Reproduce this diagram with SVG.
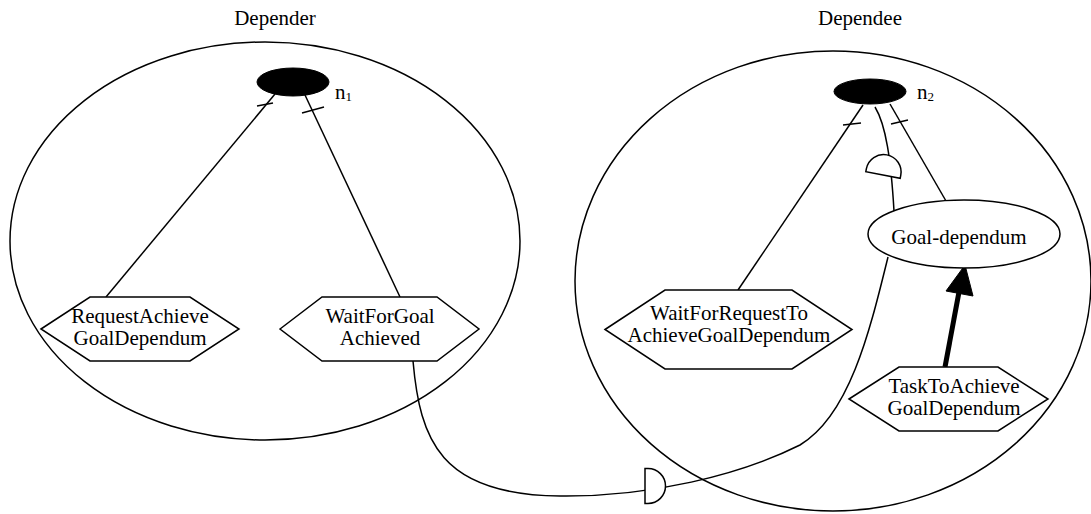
<svg xmlns="http://www.w3.org/2000/svg" width="1091" height="514" viewBox="0 0 1091 514">
  <style>
    .ln { fill: none; stroke: #000; stroke-width: 1.5; }
    .shape { fill: #fff; stroke: #000; stroke-width: 1.5; }
    .hole { fill: none; stroke: #000; stroke-width: 1.5; }
    .dot { fill: #000; stroke: #000; stroke-width: 1; }
    .txt { font-family: "Liberation Serif", "Times New Roman", serif; font-size: 21px; fill: #000; text-anchor: middle; }
    .sub { font-family: "Liberation Serif", "Times New Roman", serif; font-size: 13px; fill: #000; }
    .lbl { font-family: "Liberation Serif", "Times New Roman", serif; font-size: 21px; fill: #000; }
  </style>
  <defs>
    <!-- D-shaped mark placed across a link; flat side on the local y axis, bulge toward +x -->
    <path id="dmark" d="M 0 -17.5 L 3 -17.5 A 17.5 17.5 0 0 1 3 17.5 L 0 17.5 Z"/>
  </defs>

  <rect width="1091" height="514" fill="#fff"/>

  <!-- actor boundaries -->
  <g id="depender">
    <ellipse class="hole" cx="265" cy="241" rx="255" ry="199"/>
    <text class="txt" x="275" y="25">Depender</text>
  </g>
  <g id="dependee">
    <ellipse class="hole" cx="833" cy="281" rx="258" ry="230"/>
    <text class="txt" x="860" y="25">Dependee</text>
  </g>

  <!-- connectors -->
  <g id="connectors">
    <!-- decomposition links under n1 -->
    <line class="ln" x1="275" y1="94" x2="106" y2="297"/>
    <line class="ln" x1="257" y1="106" x2="273" y2="103"/>
    <line class="ln" x1="305" y1="95" x2="400" y2="297"/>
    <line class="ln" x1="302" y1="113" x2="324" y2="107"/>
    <!-- decomposition links under n2 -->
    <line class="ln" x1="863" y1="105" x2="738" y2="290"/>
    <line class="ln" x1="843" y1="125" x2="861" y2="123"/>
    <line class="ln" x1="890" y1="104" x2="946" y2="201"/>
    <line class="ln" x1="891" y1="124" x2="908" y2="120"/>
    <!-- n2 to Goal-dependum -->
    <path class="ln" d="M 875 107 C 886 125 891 160 894 211"/>
    <use href="#dmark" class="shape" transform="translate(883 175) rotate(-79)"/>
    <!-- WaitForGoalAchieved to Goal-dependum -->
    <path class="ln" d="M 413 361 C 420 440 440 495 560 496 C 650 497 740 475 800 445 C 850 415 870 330 888 257"/>
    <use href="#dmark" class="shape" transform="translate(645 486)"/>
    <!-- means-end link -->
    <line x1="945" y1="367" x2="959" y2="292" stroke="#000" stroke-width="5"/>
    <polygon points="965,265 946,291 973,296" fill="#000" stroke="#000" stroke-width="1"/>
  </g>

  <g id="n1">
    <ellipse class="dot" cx="293" cy="82" rx="36" ry="14"/>
    <text class="lbl" x="335" y="99">n<tspan class="sub" dy="2">1</tspan></text>
  </g>
  <g id="n2">
    <ellipse class="dot" cx="870" cy="91.5" rx="36" ry="12.5"/>
    <text class="lbl" x="917" y="99">n<tspan class="sub" dy="2">2</tspan></text>
  </g>

  <g id="request-achieve">
    <polygon class="shape" points="41,329 90,297 190,297 239,329 190,361 90,361"/>
    <text class="txt" x="140" y="323">RequestAchieve</text>
    <text class="txt" x="140" y="345">GoalDependum</text>
  </g>
  <g id="wait-for-goal">
    <polygon class="shape" points="280,329 322,297 437,297 479,329 437,361 322,361"/>
    <text class="txt" x="380" y="323">WaitForGoal</text>
    <text class="txt" x="380" y="345">Achieved</text>
  </g>
  <g id="wait-for-request">
    <polygon class="shape" points="605,329.5 665,290 792,290 852,329.5 792,369 665,369"/>
    <text class="txt" x="729" y="320">WaitForRequestTo</text>
    <text class="txt" x="729" y="342">AchieveGoalDependum</text>
  </g>
  <g id="goal-dependum">
    <ellipse class="shape" cx="964" cy="234" rx="96" ry="34"/>
    <text class="txt" x="959" y="244">Goal-dependum</text>
  </g>
  <g id="task-to-achieve">
    <polygon class="shape" points="849,399 899,367 998,367 1048,399 998,431 899,431"/>
    <text class="txt" x="954" y="393">TaskToAchieve</text>
    <text class="txt" x="954" y="415">GoalDependum</text>
  </g>
</svg>
